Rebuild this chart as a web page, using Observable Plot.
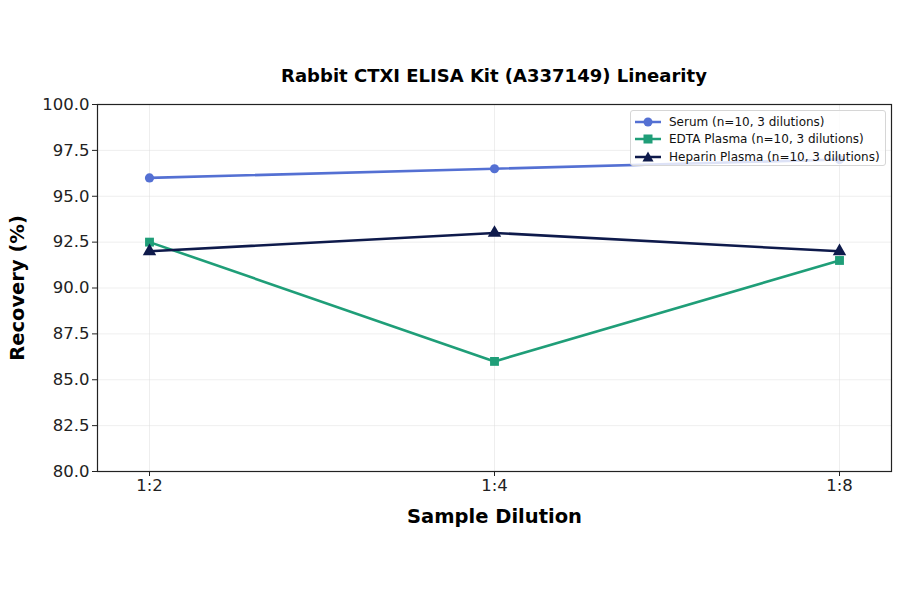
<!DOCTYPE html>
<html>
<head>
<meta charset="utf-8">
<script src="https://cdn.jsdelivr.net/npm/d3@7"></script>
<script src="https://cdn.jsdelivr.net/npm/@observablehq/plot@0.6"></script>
<style>
  body { margin: 0; background: #fff; font-family: "DejaVu Sans", sans-serif; }
  #wrap { position: relative; width: 900px; height: 594px; }
  #title { height: 90px; box-sizing: border-box; padding-top: 65px; padding-left: 97px; padding-right: 9px; text-align: center; font-weight: bold; font-size: 18px; color: #000; white-space: nowrap; }
  #legend { position: absolute; left: 630px; top: 110px; width: 256px; height: 56px; box-sizing: border-box;
    background: rgba(255,255,255,0.8); border: 1px solid #d6d6d6; border-radius: 3px; font-size: 12px; color: #111; padding: 2px 0 0 3px; white-space: nowrap; }
  .row { display: flex; align-items: center; height: 17.5px; }
  .row svg { margin-right: 7px; flex: none; }
</style>
</head>
<body>
<div id="wrap">
  <div id="title">Rabbit CTXI ELISA Kit (A337149) Linearity</div>
  <div id="chart"></div>
  <div id="legend"></div>
</div>
<script>
const dilutions = ["1:2", "1:4", "1:8"];
const seriesNames = ["Serum (n=10, 3 dilutions)", "EDTA Plasma (n=10, 3 dilutions)", "Heparin Plasma (n=10, 3 dilutions)"];
const serum = [96.0, 96.5, 97.0];
const edta = [92.5, 86.0, 91.5];
const heparin = [92.0, 93.0, 92.0];
const yTicks = [80, 82.5, 85, 87.5, 90, 92.5, 95, 97.5, 100];
const colors = ["#5470d3", "#1f9e78", "#0e1a4b"];
const symbols = ["circle", "square", "triangle"];

const valuesList = [serum, edta, heparin];
const data = [];
valuesList.forEach((vals, s) => vals.forEach((v, i) => data.push({series: seriesNames[s], dilution: dilutions[i], value: v})));

const marks = [
  Plot.gridX(dilutions, {stroke: "#dcdcdc", strokeOpacity: 0.6, strokeWidth: 0.8}),
  Plot.gridY(yTicks, {stroke: "#dcdcdc", strokeOpacity: 0.6, strokeWidth: 0.8}),
  Plot.frame({stroke: "#222", strokeWidth: 1.2}),
  Plot.axisX({ticks: dilutions, tickSize: 5, tickPadding: 3, fontSize: 16.5, label: null}),
  Plot.axisY({ticks: yTicks, tickSize: 5, tickPadding: 3, fontSize: 16.5, tickFormat: d => d.toFixed(1), label: null})
];
seriesNames.forEach((name, s) => {
  const d = data.filter(r => r.series === name);
  marks.push(Plot.line(d, {x: "dilution", y: "value", stroke: colors[s], strokeWidth: 2.6}));
  marks.push(Plot.dot(d, {x: "dilution", y: "value", fill: colors[s], stroke: "none", symbol: () => symbols[s], r: s === 0 ? 4.6 : 5}));
});
marks.push(Plot.text(["Sample Dilution"], {frameAnchor: "bottom", dy: 51, fontSize: 19.5, fontWeight: "bold", fill: "#000", text: d => d}));
marks.push(Plot.text(["Recovery (%)"], {frameAnchor: "left", textAnchor: "middle", dx: -80, rotate: -90, fontSize: 19.5, fontWeight: "bold", fill: "#000", text: d => d}));

const chart = Plot.plot({
  width: 900,
  height: 504,
  marginLeft: 97,
  marginRight: 9,
  marginTop: 14,
  marginBottom: 123,
  style: {fontFamily: "DejaVu Sans", fontSize: "16px", color: "#222", overflow: "visible"},
  x: {type: "point", domain: dilutions, padding: 0.148},
  y: {domain: [80, 100]},
  marks
});
document.getElementById("chart").appendChild(chart);

const legend = document.getElementById("legend");
const shapes = [
  c => `<circle cx="14" cy="6" r="4.5" fill="${c}"/>`,
  c => `<rect x="9.5" y="1.5" width="9" height="9" fill="${c}"/>`,
  c => `<path d="M14 0.5 L19.5 10.5 L8.5 10.5 Z" fill="${c}"/>`
];
seriesNames.forEach((name, s) => {
  const row = document.createElement("div");
  row.className = "row";
  row.innerHTML = `<svg width="28" height="12"><line x1="1" y1="6" x2="27" y2="6" stroke="${colors[s]}" stroke-width="2.5"/>${shapes[s](colors[s])}</svg><span>${name}</span>`;
  legend.appendChild(row);
});
</script>
</body>
</html>
